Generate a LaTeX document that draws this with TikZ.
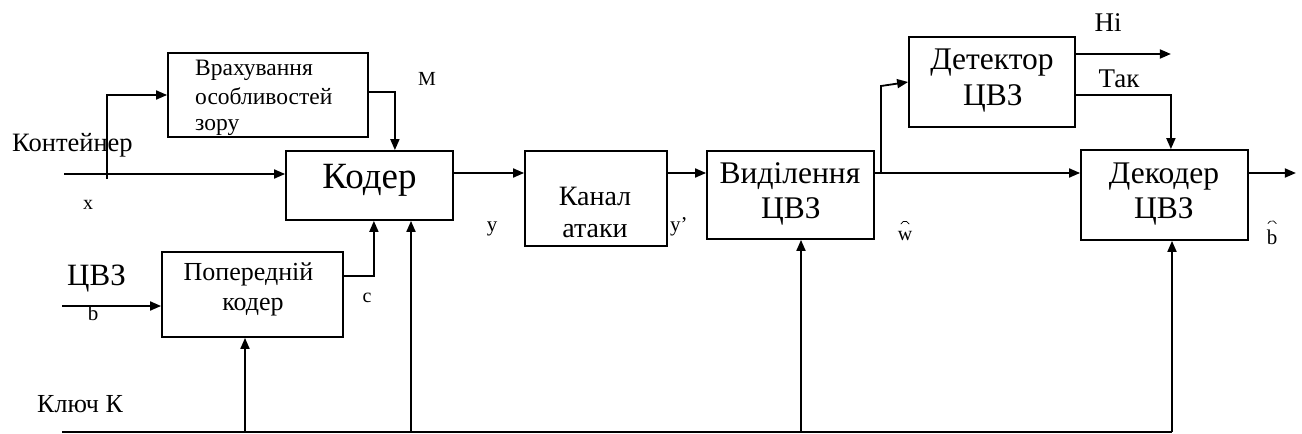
\documentclass[tikz,border=0pt]{standalone}
\usepackage{fontspec}
\setmainfont{Liberation Serif}
\usetikzlibrary{arrows.meta}
\begin{document}
\begin{tikzpicture}[x=1pt,y=-1pt,
  box/.style={draw,line width=1.8pt,inner sep=0pt},
  txt/.style={inner sep=0pt,anchor=base},
  fs/.style={font=\fontsize{#1}{#1}\selectfont},
  ln/.style={line width=1.8pt},
  hat/.style={line width=0.7pt},
  arr/.style={line width=1.8pt,-{Triangle[length=11pt,width=9pt]}}]
\useasboundingbox (0,0) rectangle (1302,434);
% boxes
\node[box,minimum width=200pt,minimum height=84pt] (vr) at (268,95) {};
\node[box,minimum width=167pt,minimum height=69pt] (kod) at (369.5,185.5) {};
\node[box,minimum width=181pt,minimum height=85pt] (pop) at (252.5,294.5) {};
\node[box,minimum width=142pt,minimum height=95pt] (kan) at (596,198.5) {};
\node[box,minimum width=167pt,minimum height=88pt] (vyd) at (790.5,195) {};
\node[box,minimum width=166pt,minimum height=90pt] (det) at (992,82) {};
\node[box,minimum width=167pt,minimum height=90pt] (dek) at (1164.5,195) {};
% box texts
\node[txt,anchor=base west,fs=23.5] (vr1) at (195,75) {Врахування};
\node[txt,anchor=base west,fs=23.5] (vr2) at (195,104) {особливостей};
\node[txt,anchor=base west,fs=23.5] (vr3) at (195,130) {зору};
\node[txt,fs=37] (kodt) at (369.5,188) {Кодер};
\node[txt,fs=26] (pop1) at (248.5,280) {Попередній};
\node[txt,fs=26] (pop2) at (253,310) {кодер};
\node[txt,fs=28] (kan1) at (595,205) {Канал};
\node[txt,fs=28] (kan2) at (595,237) {атаки};
\node[txt,fs=31.5] (vyd1) at (790,183) {Виділення};
\node[txt,fs=31.5] (vyd2) at (791,218) {ЦВЗ};
\node[txt,fs=31.5] (det1) at (992,69) {Детектор};
\node[txt,fs=31.5] (det2) at (993,105) {ЦВЗ};
\node[txt,fs=31.5] (dek1) at (1164,183) {Декодер};
\node[txt,fs=31.5] (dek2) at (1164,218) {ЦВЗ};
% outer labels
\node[txt,anchor=base west,fs=26.5] (lcont) at (12,151) {Контейнер};
\node[txt,fs=20] (lx) at (88,209) {x};
\node[txt,fs=20] (lm) at (427,85) {М};
\node[txt,anchor=base west,fs=31] (lcvz) at (67,285) {ЦВЗ};
\node[txt,fs=21] (lb) at (93,320) {b};
\node[txt,fs=20] (lc) at (367,302) {c};
\node[txt,anchor=base west,fs=26] (lkey) at (37,412) {Ключ К};
\node[txt,fs=21] (ly) at (492,231) {y};
\node[txt,anchor=base west,fs=21] (lyy) at (670,231) {y’};
\node[txt,fs=20] (lw) at (905,240) {w};
\node[txt,fs=21] (lbh) at (1272,244) {b};
\node[txt,fs=27] (lni) at (1108,31) {Ні};
\node[txt,fs=27] (ltak) at (1119,87) {Так};
% hats
\draw[hat] ([shift={(-4.2pt,6.5pt)}]lw.north) arc[start angle=160,end angle=20,radius=4.5pt];
\draw[hat] ([shift={(-4.2pt,5.5pt)}]lbh.north) arc[start angle=160,end angle=20,radius=4.5pt];
% connectors
\coordinate (ml) at (0,173);
\coordinate (cin) at (64,174);
\draw[arr] (cin) -- (cin -| kod.west);
\coordinate (brs) at (107,179);
\draw[arr] (brs) -- (brs |- vr.west) -- (vr.west);
\draw[arr] ([yshift=3pt]vr.east) -- ++(26,0) coordinate (mc) -- (mc |- kod.north);
\draw[arr] (kod.east |- ml) -- (kan.west |- ml);
\draw[arr] (kan.east |- ml) -- (vyd.west |- ml);
\draw[arr] (vyd.east |- ml) -- (dek.west |- ml);
\coordinate (bd) at (881,173);
\draw[arr] (bd) -- ++(0,-87) -- (det.west);
\draw[arr] ([yshift=28pt]det.east) -- ++(95,0) coordinate (nio);
\draw[arr] ([yshift=-13pt]det.east) -- ++(95,0) coordinate (tk) -- (tk |- dek.north);
\draw[arr] (dek.east |- ml) -- ++(47,0) coordinate (bout);
\coordinate (bin) at (62,306);
\draw[arr] (bin) -- (bin -| pop.west);
\draw[arr] ([yshift=18.5pt]pop.east) -- ++(30,0) coordinate (cc) -- (cc |- kod.south);
\coordinate (k0) at (62,432);
\coordinate (k1) at (1172,432);
\draw[ln] (k0) -- (k1);
\coordinate (kp) at (245,432);
\coordinate (kk) at (411,432);
\coordinate (kv) at (801,432);
\draw[arr] (kp) -- (kp |- pop.south);
\draw[arr] (kk) -- (kk |- kod.south);
\draw[arr] (kv) -- (kv |- vyd.south);
\draw[arr] (k1) -- (k1 |- dek.south);
\end{tikzpicture}
\end{document}
